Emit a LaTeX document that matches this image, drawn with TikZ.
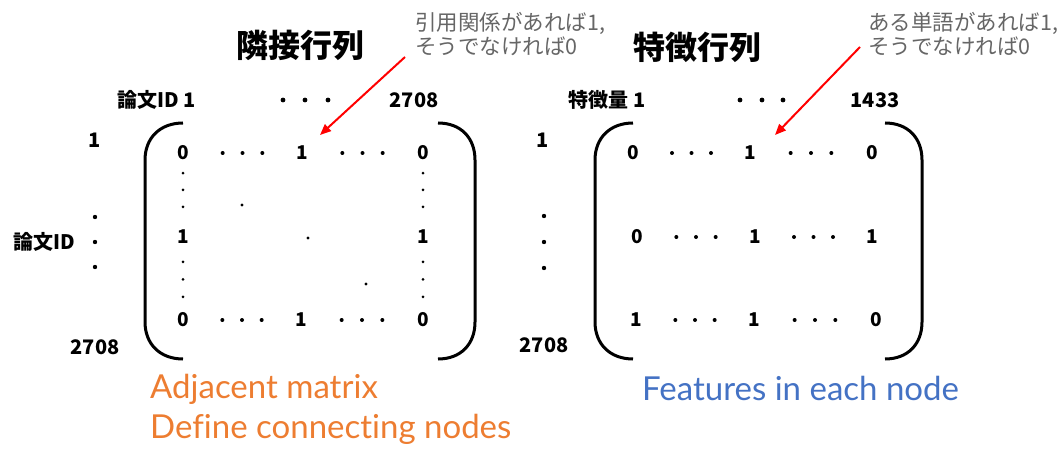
\documentclass[tikz,border=0pt]{standalone}
\usepackage{fontspec}
\setmainfont{Lato}[Ligatures=NoCommon]
\newfontfamily\jp{Noto Sans CJK JP}
\usepackage{xcolor}
\usetikzlibrary{positioning,calc,arrows.meta}
\definecolor{caporange}{HTML}{ED7D31}
\definecolor{capblue}{HTML}{4472C4}
\definecolor{notegray}{HTML}{666666}

\begin{document}
\begin{tikzpicture}[x=1pt,y=-1pt,
    lab/.style={font=\jp\bfseries\fontsize{20}{24}\selectfont,inner sep=0pt},
    ent/.style={font=\jp\bfseries\fontsize{19}{22}\selectfont,inner sep=0pt},
    heading/.style={font=\jp\bfseries\fontsize{32}{36}\selectfont,inner sep=0pt},
    note/.style={font=\jp\fontsize{21.5}{24}\selectfont,text=notegray,align=left,inner sep=0pt,anchor=north west},
    caption/.style={font=\fontsize{33}{38}\selectfont,anchor=base west,inner sep=0pt},
    paren/.style={line width=3pt},
    pointer/.style={red,line width=2pt,-{Triangle[length=11pt,width=9pt]}}]
    \useasboundingbox (0,0) rectangle (1060,449);

    \node[heading] (adjtitle) at (300,45) {隣接行列};
    \node[heading] (feattitle) at (697,47) {特徴行列};
    \node[note] (adjnote) at (415,12) {引用関係があれば1,\\そうでなければ0};
    \node[note] (featnote) at (868,12) {ある単語があれば1,\\そうでなければ0};

    \node[lab] (adjcol1) at (157,100) {論文ID 1};
    \node[lab] (adjcoln) at (414,100) {2708};
    \node[lab] (featcol1) at (607,100) {特徴量 1};
    \node[lab] (featcoln) at (875,100) {1433};
    \fill (283,100) circle (2.4) (305,100) circle (2.4) (328,100) circle (2.4);
    \fill (740,100) circle (2.4) (762,100) circle (2.4) (783,100) circle (2.4);

    \node[lab] (adjrow1) at (95,140) {1};
    \node[lab] (adjrown) at (95,347) {2708};
    \coordinate (adjmid) at (95,242);
    \node[lab,left=20pt of adjmid] (adjrowlab) {論文ID};
    \node[lab] (featrow1) at (543,140) {1};
    \node[lab] (featrown) at (544,345) {2708};
    \fill (95,217) circle (2.2) (adjmid) circle (2.2) (95,267) circle (2.2);
    \fill (544,216) circle (2.2) (544,242) circle (2.2) (544,268) circle (2.2);

    \draw[paren] (183,123) .. controls +(-23,0) and +(0,-22) .. (145,160) -- (145,322) .. controls +(0,22) and +(-23,0) .. (183,359);
    \draw[paren] (438,123) .. controls +(23,0) and +(0,-22) .. (475,160) -- (475,322) .. controls +(0,22) and +(23,0) .. (438,359);
    \draw[paren] (633,123) .. controls +(-23,0) and +(0,-22) .. (595,160) -- (595,322) .. controls +(0,22) and +(-23,0) .. (633,359);
    \draw[paren] (885,123) .. controls +(23,0) and +(0,-22) .. (922,160) -- (922,322) .. controls +(0,22) and +(23,0) .. (885,359);

    \node[ent] (a11) at (183,153) {0};
    \node[ent] (a12) at (302,153) {1};
    \node[ent] (a13) at (423,153) {0};
    \node[ent] (a21) at (183,237) {1};
    \node[ent] (a23) at (423,237) {1};
    \node[ent] (a31) at (183,320) {0};
    \node[ent] (a32) at (301,320) {1};
    \node[ent] (a33) at (423,320) {0};

    \node[ent] (f11) at (633,153) {0};
    \node[ent] (f12) at (750,153) {1};
    \node[ent] (f13) at (872,153) {0};
    \node[ent] (f21) at (637,237) {0};
    \node[ent] (f22) at (755,237) {1};
    \node[ent] (f23) at (872,237) {1};
    \node[ent] (f31) at (636,320) {1};
    \node[ent] (f32) at (754,320) {1};
    \node[ent] (f33) at (876,320) {0};

    \foreach \a/\b in {a11/a12,a12/a13,a31/a32,a32/a33,f11/f12,f12/f13,f21/f22,f22/f23,f31/f32,f32/f33}
        \foreach \t in {1/3,1/2,2/3}
            \fill ($(\a)!\t!(\b)$) circle (2);
    \foreach \a/\b in {a11/a21,a13/a23}
        \foreach \t in {.24,.44,.64}
            \fill ($(\a)!\t!(\b)$) circle (1.5);
    \foreach \a/\b in {a21/a31,a23/a33}
        \foreach \t in {.3,.51,.72}
            \fill ($(\a)!\t!(\b)$) circle (1.5);
    \fill (242,205) circle (1.6) (308,238) circle (1.6) (366,284) circle (1.6);

    \coordinate (adjtail) at (405,57);
    \coordinate (adjtip) at (320,135);
    \coordinate (feattail) at (860,47);
    \coordinate (feattip) at (775,135);
    \draw[pointer] (adjtail) -- (adjtip);
    \draw[pointer] (feattail) -- (feattip);

    \node[caption,text=caporange] (adjcap) at (150,398) {Adjacent matrix};
    \node[caption,text=caporange] (adjcap2) at (150,438) {Define connecting nodes};
    \node[caption,text=capblue] (featcap) at (642,400) {Features in each node};
\end{tikzpicture}
\end{document}
